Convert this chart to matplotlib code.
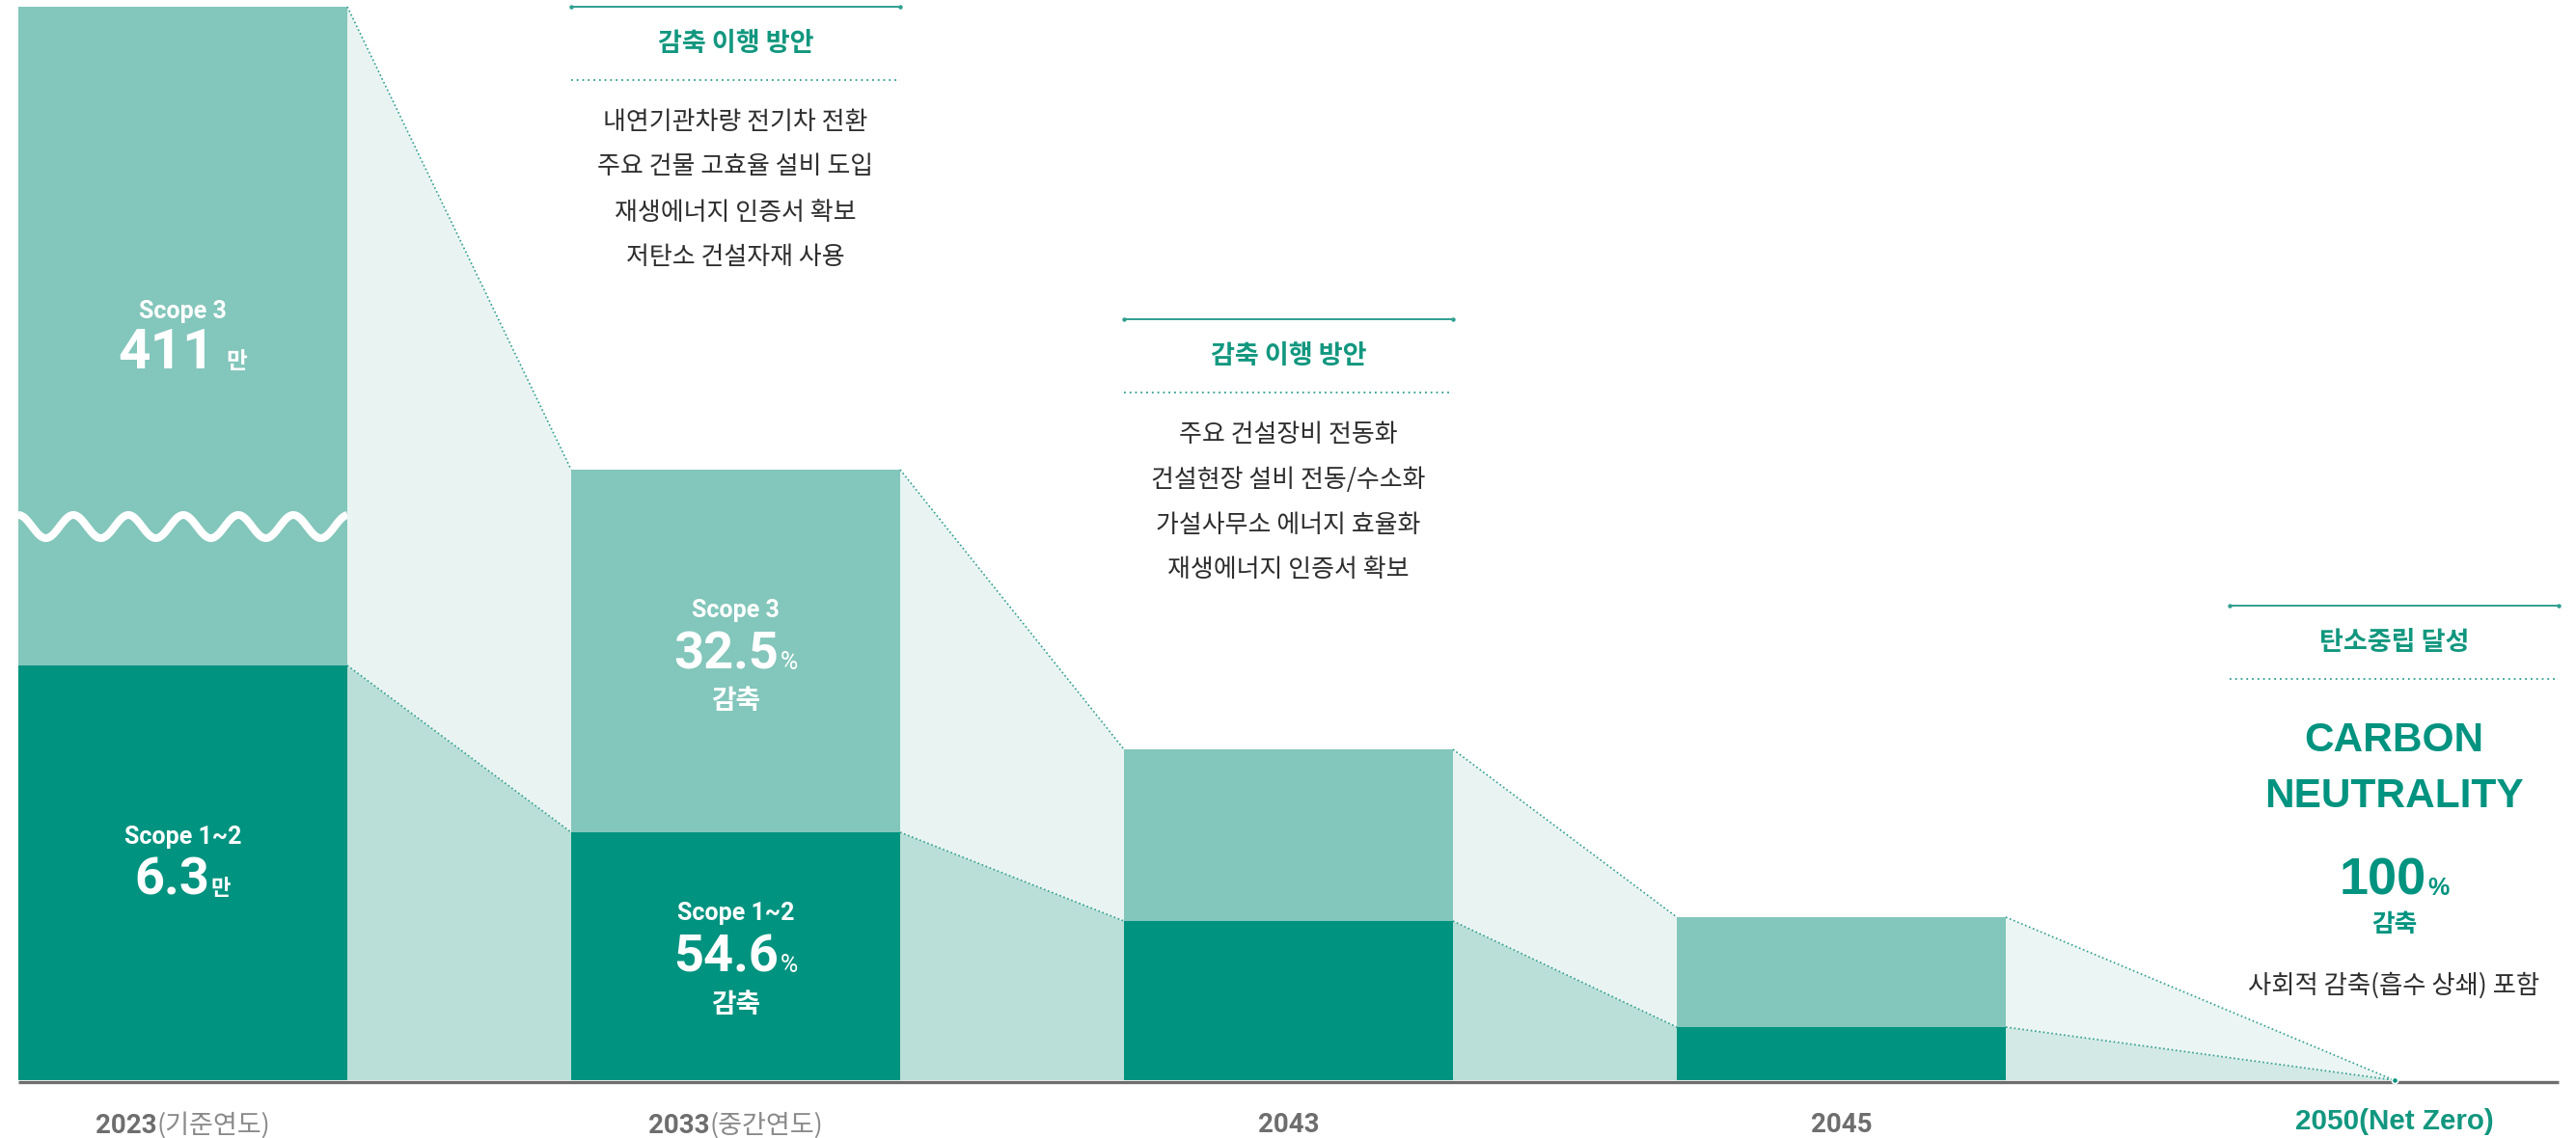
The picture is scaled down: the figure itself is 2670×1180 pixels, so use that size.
import matplotlib
matplotlib.use("Agg")
import matplotlib.pyplot as plt
import numpy as np
from matplotlib.offsetbox import TextArea, HPacker, AnnotationBbox

# ---- data -------------------------------------------------------------
years = ["2023", "2033", "2043", "2045", "2050(Net Zero)"]
year_notes = ["(기준연도)", "(중간연도)", "", "", ""]
scope12_height = [430, 257, 165, 55, 0]     # illustrative bar heights
scope3_height = [683, 376, 178, 114, 0]

plan_title = "감축 이행 방안"
plan_2033 = ["내연기관차량 전기차 전환", "주요 건물 고효율 설비 도입",
             "재생에너지 인증서 확보", "저탄소 건설자재 사용"]
plan_2043 = ["주요 건설장비 전동화", "건설현장 설비 전동/수소화",
             "가설사무소 에너지 효율화", "재생에너지 인증서 확보"]
goal_title = "탄소중립 달성"
goal_note = "사회적 감축(흡수 상쇄) 포함"

# ---- styles -----------------------------------------------------------
DARK = "#00937f"
MID = "#83c6bb"
CONN12 = "#badfd8"
CONN3 = "#e9f4f2"
CONN12_LAST = "#d3e9e5"
CONN3_LAST = "#ebf5f3"
LINE = "#2f9f8f"
TEAL_TXT = "#12977f"
GRAY = "#6e6e6e"
KR = ["Noto Sans CJK KR", "DejaVu Sans"]
NUM = ["Roboto", "Noto Sans CJK KR", "DejaVu Sans"]

plt.rcParams["font.family"] = NUM

fig = plt.figure(figsize=(26.7, 11.8), dpi=100)
ax = fig.add_axes([0, 0, 1, 1])
STEP = 573.0
ax.set_xlim(-189.5 / STEP, (2670 - 189.5) / STEP)
ax.set_ylim(-60, 1120)
ax.axis("off")

s12 = np.array(scope12_height, float)
s3 = np.array(scope3_height, float)
total = s12 + s3
xpos = np.arange(len(years))
w = 0.595
widths = np.array([w, w, w, w, 0.0])

# ---- connectors between bars -----------------------------------------
for i in range(len(years) - 1):
    x0 = xpos[i] + widths[i] / 2
    x1 = xpos[i + 1] - widths[i + 1] / 2
    last = i == len(years) - 2
    ax.fill([x0, x0, x1, x1], [0, s12[i], s12[i + 1], 0],
            color=CONN12_LAST if last else CONN12, lw=0, zorder=1)
    ax.fill([x0, x0, x1, x1], [s12[i], total[i], total[i + 1], s12[i + 1]],
            color=CONN3_LAST if last else CONN3, lw=0, zorder=1)
    for top in (s12, total):
        ax.plot([x0, x1], [top[i], top[i + 1]], color=LINE, lw=1.2,
                ls=(0, (1, 1.6)), zorder=3)

# ---- stacked bars ----------------------------------------------------
nb = 4
ax.bar(xpos[:nb], s12[:nb], width=w, color=DARK, lw=0, zorder=2)
b3 = ax.bar(xpos[:nb], s3[:nb], bottom=s12[:nb], width=w, color=MID, lw=0,
            zorder=2)

# axis break on the first bar
period = 57 / STEP
wx = np.linspace(-w / 2, w / 2, 600)
wy = 574 + 12 * np.cos(2 * np.pi * (wx + w / 2) / period)
wave, = ax.plot(xpos[0] + wx, wy, color="white", lw=5.8, zorder=4,
                solid_capstyle="butt")
wave.set_clip_path(b3[0])

# baseline
ax.plot([xpos[0] - w / 2, xpos[-1] + w / 2], [-1.6, -1.6], color=GRAY,
        lw=2.4, solid_capstyle="butt", zorder=5)
ax.plot([xpos[-1]], [0], "o", ms=4.5, mfc=DARK, mec="white", mew=1.2,
        zorder=6)


# ---- helpers ---------------------------------------------------------
def mixed(x, y, parts, sep=2):
    boxes = [TextArea(t, textprops=p) for t, p in parts]
    pack = HPacker(children=boxes, align="baseline", pad=0, sep=sep)
    ab = AnnotationBbox(pack, (x, y), xycoords="data", frameon=False,
                        box_alignment=(0.5, 0.5), pad=0, zorder=10)
    ax.add_artist(ab)


def wtxt(x, y, s, size, family=NUM, color="white", weight="bold"):
    ax.text(x, y, s, ha="center", va="center", fontsize=size, color=color,
            fontweight=weight, family=family, zorder=10)


white_b = dict(color="white", fontweight="bold", family=NUM)

# bar labels
wtxt(xpos[0], 797, "Scope 3", 18)
mixed(xpos[0], 753, [("411", dict(white_b, fontsize=42)),
                     ("만", dict(white_b, fontsize=17, family=KR))], sep=8)
wtxt(xpos[0], 252, "Scope 1~2", 18)
mixed(xpos[0], 207, [("6.3", dict(white_b, fontsize=39)),
                     ("만", dict(white_b, fontsize=16, family=KR))], sep=1)

wtxt(xpos[1], 487, "Scope 3", 18)
mixed(xpos[1], 441, [("32.5", dict(white_b, fontsize=39)),
                     ("%", dict(white_b, fontsize=18, fontweight="normal"))],
      sep=1)
wtxt(xpos[1], 393, "감축", 20, family=KR)
wtxt(xpos[1], 173, "Scope 1~2", 18)
mixed(xpos[1], 127, [("54.6", dict(white_b, fontsize=39)),
                     ("%", dict(white_b, fontsize=18, fontweight="normal"))],
      sep=1)
wtxt(xpos[1], 78, "감축", 20, family=KR)

# year labels
for i, (yr, note) in enumerate(zip(years, year_notes)):
    if i == len(years) - 1:
        ax.text(xpos[i], -43, yr, ha="center", va="center", fontsize=21.3,
                fontweight="bold", color=TEAL_TXT,
                family=["Liberation Sans", "DejaVu Sans"])
        continue
    parts = [(yr, dict(fontsize=20, fontweight="bold", color=GRAY,
                       family=NUM))]
    if note:
        parts.append((note, dict(fontsize=19.5, color="#8a8a8a", family=KR)))
    mixed(xpos[i], -47, parts, sep=0)


# ---- annotation blocks ------------------------------------------------
def block(xc, y_top, title, title_y, dot_y):
    xl, xr = xc - w / 2, xc + w / 2
    ax.plot([xl, xr], [y_top, y_top], color=LINE, lw=1.4, zorder=5)
    ax.plot([xl, xr], [y_top, y_top], "o", ms=2.2, color=LINE, zorder=5)
    ax.text(xc, title_y, title, ha="center", va="center", fontsize=19.5,
            fontweight="bold", color=TEAL_TXT, family=KR, zorder=10)
    ax.plot([xl, xr], [dot_y, dot_y], color=LINE, lw=1.3, ls=(0, (1, 2.2)),
            zorder=5)


def item_lines(xc, ys, items):
    for yy, s in zip(ys, items):
        ax.text(xc, yy, s, ha="center", va="center", fontsize=18.7,
                color="#2e2e2e", family=KR, zorder=10)


block(xpos[1], 1113, plan_title, 1075, 1037)
item_lines(xpos[1], [994, 947, 900, 853], plan_2033)
block(xpos[2], 789, plan_title, 751, 713)
item_lines(xpos[2], [670, 623, 576, 529], plan_2043)
block(xpos[4], 492, goal_title, 454, 416)

ax.text(xpos[4], 352, "CARBON", ha="center", va="center", fontsize=30.5,
        fontweight="bold", color=DARK, family=["Liberation Sans"], zorder=10)
ax.text(xpos[4], 294, "NEUTRALITY", ha="center", va="center", fontsize=30.5,
        fontweight="bold", color=DARK, family=["Liberation Sans"], zorder=10)
teal_b = dict(color=DARK, fontweight="bold", family=["Liberation Sans"])
mixed(xpos[4], 206, [("100", dict(teal_b, fontsize=39)),
                     ("%", dict(teal_b, fontsize=18))], sep=1)
ax.text(xpos[4], 161, "감축", ha="center", va="center", fontsize=18.5,
        fontweight="bold", color=DARK, family=KR, zorder=10)
ax.text(xpos[4], 98, goal_note, ha="center", va="center", fontsize=19,
        color="#2e2e2e", family=KR, zorder=10)

fig.savefig("out.png", dpi=100, facecolor="white")
